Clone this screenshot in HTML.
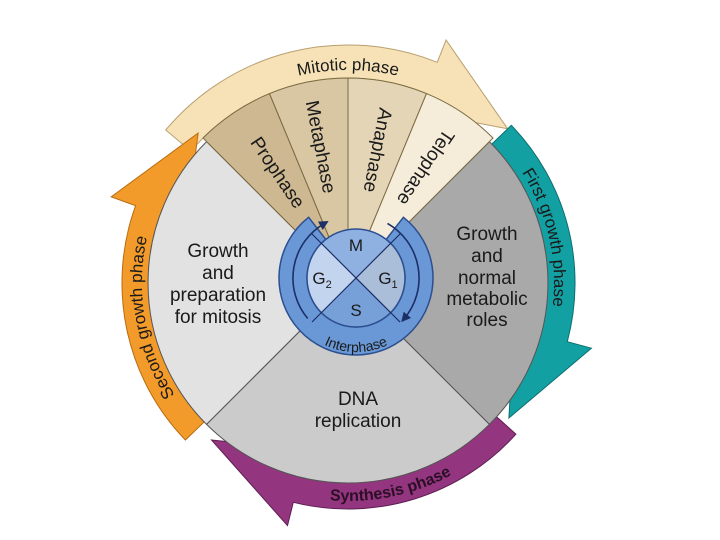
<!DOCTYPE html>
<html><head><meta charset="utf-8"><style>
html,body{margin:0;padding:0;background:#fff;}
svg{display:block;}
text{font-family:"Liberation Sans",Arial,sans-serif;fill:#1a1a1a;}
</style></head><body>
<svg width="720" height="540" viewBox="0 0 720 540" xmlns="http://www.w3.org/2000/svg">
<defs>
<marker id="ah" markerWidth="6" markerHeight="6" refX="3" refY="3" orient="auto"><path d="M0,0 L6,3 L0,6 Z" fill="#1c2f66"/></marker>
</defs>
<g transform="translate(348,283)">
  <path d="M-182.3,-153.0 A238 238 0 0 1 89.2,-220.7 L98.1,-242.9 L159.7,-154.2 L69.3,-171.5 L76.8,-190.1 A205 205 0 0 0 -157.0,-131.8 Z" fill="#f6e2b6" stroke="#b89f70" stroke-width="1"/>
  <path d="M163.3,-157.7 A227 227 0 0 1 219.3,58.7 L243.4,65.2 L160.9,135.0 L166.1,44.5 L190.3,51.0 A197 197 0 0 0 141.7,-136.9 Z" fill="#13a0a2" stroke="#0c6f70" stroke-width="1"/>
  <path d="M167.9,151.2 A226 226 0 0 1 -54.7,219.3 L-60.5,242.6 L-136.5,157.0 L-41.6,166.9 L-47.7,191.1 A197 197 0 0 0 146.4,131.8 Z" fill="#93357f" stroke="#5e1f52" stroke-width="1"/>
  <path d="M-162.6,157.0 A226 226 0 0 1 -212.4,-77.3 L-236.8,-86.2 L-149.9,-149.9 L-161.6,-58.8 L-185.1,-67.4 A197 197 0 0 0 -141.7,136.9 Z" fill="#f29b2a" stroke="#b86d12" stroke-width="1"/>
  <path d="M0,0 L-141.4,141.4 A200 200 0 0 1 -141.4,-141.4 Z" fill="#e2e2e2" stroke="#555" stroke-width="1"/>
  <path d="M0,0 L141.4,-141.4 A200 200 0 0 1 141.4,141.4 Z" fill="#a9a9a9" stroke="#555" stroke-width="1"/>
  <path d="M0,0 L141.4,141.4 A200 200 0 0 1 -141.4,141.4 Z" fill="#cbcbcb" stroke="#555" stroke-width="1"/>
  <path d="M0,0 L-145,-145 A205 205 0 0 1 -78.5,-189.4 Z" fill="#cdb892" stroke="#7a6a40" stroke-width="1"/>
  <path d="M0,0 L-78.5,-189.4 A205 205 0 0 1 0,-205 Z" fill="#d9c7a3" stroke="#7a6a40" stroke-width="1"/>
  <path d="M0,0 L0,-205 A205 205 0 0 1 78.5,-189.4 Z" fill="#e4d5b6" stroke="#7a6a40" stroke-width="1"/>
  <path d="M0,0 L78.5,-189.4 A205 205 0 0 1 145,-145 Z" fill="#f5ecda" stroke="#7a6a40" stroke-width="1"/>
  <path id="pMit" d="M-136.9,-163.2 A213 213 0 0 1 136.9,-163.2" fill="none"/>
  <path id="pFirst" d="M103,-178.4 A206 206 0 0 1 170.8,115.2" fill="none"/>
  <path id="pSec" d="M-118.2,168.8 A206 206 0 0 1 -168.8,-118.2" fill="none"/>
  <path id="pSyn" d="M-125.0,178.6 A218 218 0 0 0 178.6,125.0" fill="none"/>
  <text font-size="17"><textPath href="#pMit" startOffset="50%" text-anchor="middle">Mitotic phase</textPath></text>
  <text font-size="17"><textPath href="#pFirst" startOffset="50%" text-anchor="middle">First growth phase</textPath></text>
  <text font-size="17"><textPath href="#pSec" startOffset="50%" text-anchor="middle">Second growth phase</textPath></text>
  <text font-size="16" font-weight="bold" style="fill:#2a0f25"><textPath href="#pSyn" startOffset="52%" text-anchor="middle">Synthesis phase</textPath></text>
</g>
<g font-size="19">
  <text transform="translate(277,173) rotate(56)" text-anchor="middle" dominant-baseline="central">Prophase</text>
  <text transform="translate(320,147) rotate(79)" text-anchor="middle" dominant-baseline="central">Metaphase</text>
  <text transform="translate(377,150) rotate(101)" text-anchor="middle" dominant-baseline="central">Anaphase</text>
  <text transform="translate(425,167) rotate(124)" text-anchor="middle" dominant-baseline="central">Telophase</text>
</g>
<g font-size="19" text-anchor="middle">
  <text x="218" y="257">Growth</text>
  <text x="218" y="279">and</text>
  <text x="218" y="301">preparation</text>
  <text x="218" y="323">for mitosis</text>
  <text x="487" y="240">Growth</text>
  <text x="487" y="262">and</text>
  <text x="487" y="284">normal</text>
  <text x="487" y="305">metabolic</text>
  <text x="487" y="326">roles</text>
  <text x="358" y="405">DNA</text>
  <text x="358" y="427">replication</text>
</g>
<g transform="translate(356,278)">
  <path d="M47.4,-60.7 A77 77 0 1 1 -47.4,-60.7 L-30.2,-38.6 A49 49 0 1 0 30.2,-38.6 Z" fill="#6a98d6" stroke="#2c4f8f" stroke-width="1.5"/>
  <path d="M31.5,-54.6 A63 63 0 0 1 48.3,40.5" fill="none" stroke="#1c2f66" stroke-width="1.6" marker-end="url(#ah)"/>
  <path d="M-48.3,40.5 A63 63 0 0 1 -31.5,-54.6" fill="none" stroke="#1c2f66" stroke-width="1.6" marker-end="url(#ah)"/>
  <path d="M0,0 L-34.6,-34.6 A49 49 0 0 1 34.6,-34.6 Z" fill="#8fb1e2"/>
  <path d="M0,0 L34.6,-34.6 A49 49 0 0 1 34.6,34.6 Z" fill="#aabdd9"/>
  <path d="M0,0 L34.6,34.6 A49 49 0 0 1 -34.6,34.6 Z" fill="#77a0d8"/>
  <path d="M0,0 L-34.6,34.6 A49 49 0 0 1 -34.6,-34.6 Z" fill="#c3d4ee"/>
  <circle r="49" fill="none" stroke="#2c4f8f" stroke-width="1.5"/>
  <path d="M-44,-44 L44,44 M44,-44 L-44,44" stroke="#1c2f66" stroke-width="1.2"/>
  <g font-size="17" text-anchor="middle">
    <text x="0" y="-27">M</text>
    <text x="-34" y="6">G<tspan font-size="11" dy="4">2</tspan></text>
    <text x="32" y="6">G<tspan font-size="11" dy="4">1</tspan></text>
    <text x="0" y="38">S</text>
  </g>
  <path id="pInt" d="M-64.1,37 A74 74 0 0 0 64.1,37" fill="none"/>
  <text font-size="14"><textPath href="#pInt" startOffset="50%" text-anchor="middle">Interphase</textPath></text>
</g>
</svg>
</body></html>
